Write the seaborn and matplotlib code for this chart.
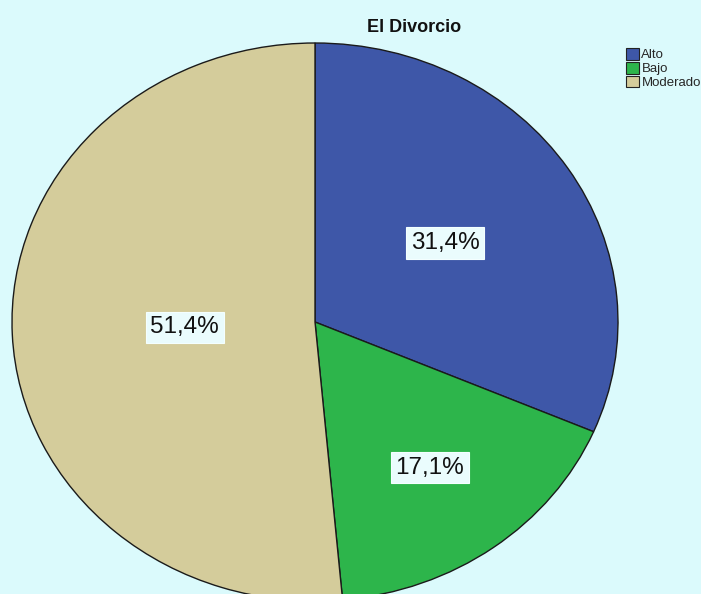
import numpy as np
import matplotlib
matplotlib.use("Agg")
import matplotlib.pyplot as plt
import seaborn as sns
from matplotlib.patches import Patch

sns.set_theme(style="white")
plt.rcParams['font.family'] = ['Liberation Sans', 'DejaVu Sans']

# Data
categories = ["Alto", "Bajo", "Moderado"]
percentages = [31.4, 17.1, 51.4]
pct_labels = ["31,4%", "17,1%", "51,4%"]
title = "El Divorcio"

colors = ["#3e57a8", "#2db54b", "#d4cc9b"]
label_radius = [0.515, 0.645, 0.43]

fig = plt.figure(figsize=(7.01, 5.94), dpi=100)
fig.patch.set_facecolor("#dbfafc")

W, H = 701, 594
# Pie ellipse: x from 12 to 618, y from 43 to 601 (pixels, top-origin)
ax = fig.add_axes([12 / W, (H - 601) / H, 606 / W, 558 / H])
ax.set_facecolor("none")
wedges, _ = ax.pie(percentages, colors=colors, startangle=90, counterclock=False,
                   wedgeprops=dict(edgecolor="#1a1a1a", linewidth=1.0))
ax.set_aspect("auto")
ax.set_xlim(-1, 1)
ax.set_ylim(-1, 1)
ax.axis("off")

for w, lab, r in zip(wedges, pct_labels, label_radius):
    ang = np.deg2rad((w.theta1 + w.theta2) / 2)
    ax.text(r * np.cos(ang), r * np.sin(ang), lab, ha="center", va="center",
            fontsize=17.5, color="#111111",
            bbox=dict(boxstyle="square,pad=0.2", facecolor="#eafcfd",
                      edgecolor="#f4ffff", linewidth=0.8))

fig.text(414 / W, 1 - 27 / H, title, ha="center", va="center",
         fontsize=13, fontweight="bold", color="#111111")

handles = [Patch(facecolor=c, edgecolor="#222222", linewidth=0.8) for c in colors]
fig.legend(handles, categories, loc="upper left", bbox_to_anchor=(617 / W, 1 - 39 / H),
           frameon=False, fontsize=9.5, handlelength=0.95, handleheight=0.95,
           handletextpad=0.2, labelspacing=0.05, borderpad=0.2)

fig.savefig("out.png", dpi=100, facecolor=fig.get_facecolor())
